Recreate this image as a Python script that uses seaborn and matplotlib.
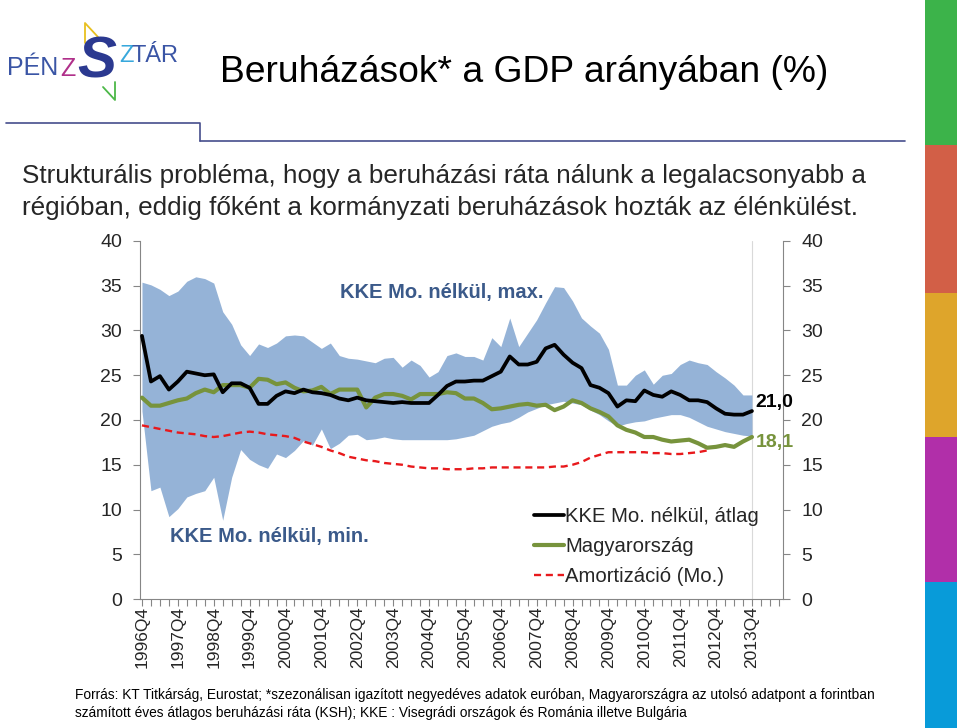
import numpy as np
import pandas as pd
import matplotlib.pyplot as plt
import seaborn as sns
from matplotlib.lines import Line2D
from matplotlib.patches import Rectangle

# quarterly data, 1996Q4 .. 2013Q4
quarters = [str(p) for p in pd.period_range('1996Q4', '2013Q4', freq='Q')]
year_labels = ['1996Q4', '1997Q4', '1998Q4', '1999Q4', '2000Q4', '2001Q4',
               '2002Q4', '2003Q4', '2004Q4', '2005Q4', '2006Q4', '2007Q4',
               '2008Q4', '2009Q4', '2010Q4', '2011Q4', '2012Q4', '2013Q4']

# KKE Mo. nélkül, átlag
kke_avg = [29.4, 24.3, 24.9, 23.4, 24.3, 25.4, 25.2, 25.0, 25.1, 23.1,
           24.1, 24.1, 23.6, 21.8, 21.8, 22.7, 23.2, 23.0, 23.4, 23.1,
           23.0, 22.8, 22.4, 22.2, 22.5, 22.2, 22.1, 22.0, 21.9, 22.0,
           21.9, 21.9, 21.9, 22.8, 23.8, 24.3, 24.3, 24.4, 24.4, 24.9,
           25.4, 27.1, 26.2, 26.2, 26.5, 28.0, 28.4, 27.3, 26.4, 25.8,
           23.9, 23.6, 23.0, 21.5, 22.2, 22.1, 23.3, 22.8, 22.6, 23.2,
           22.8, 22.2, 22.2, 22.0, 21.3, 20.7, 20.6, 20.6, 21.0]
# Magyarország
hungary = [22.5, 21.6, 21.6, 21.9, 22.2, 22.4, 23.0, 23.4, 23.1, 23.9,
           23.9, 23.9, 23.6, 24.6, 24.5, 24.0, 24.2, 23.6, 23.2, 23.3,
           23.7, 22.9, 23.4, 23.4, 23.4, 21.4, 22.5, 22.9, 22.9, 22.7,
           22.3, 22.9, 22.9, 22.9, 23.1, 23.0, 22.4, 22.4, 21.9, 21.2,
           21.3, 21.5, 21.7, 21.8, 21.6, 21.7, 21.1, 21.5, 22.2, 21.9,
           21.3, 20.9, 20.4, 19.4, 18.9, 18.6, 18.1, 18.1, 17.8, 17.6,
           17.7, 17.8, 17.4, 16.9, 17.0, 17.2, 17.0, 17.6, 18.1]
# Amortizáció (Mo.) - ends before the last quarters
amort = [19.4, 19.2, 19.0, 18.8, 18.6, 18.5, 18.4, 18.2, 18.1, 18.2,
         18.4, 18.6, 18.7, 18.6, 18.4, 18.3, 18.2, 18.0, 17.6, 17.3,
         17.0, 16.6, 16.3, 15.9, 15.7, 15.5, 15.4, 15.2, 15.1, 15.0,
         14.8, 14.7, 14.6, 14.6, 14.5, 14.5, 14.5, 14.6, 14.6, 14.7,
         14.7, 14.7, 14.7, 14.7, 14.7, 14.7, 14.8, 14.8, 15.0, 15.3,
         15.8, 16.1, 16.4, 16.4, 16.4, 16.4, 16.4, 16.3, 16.3, 16.2,
         16.2, 16.3, 16.4, 16.6, None, None, None, None, None]
# KKE Mo. nélkül, max. / min.
kke_max = [35.4, 35.1, 34.6, 33.9, 34.4, 35.5, 36.0, 35.8, 35.3, 32.1,
           30.7, 28.4, 27.2, 28.5, 28.1, 28.6, 29.4, 29.5, 29.4, 28.7,
           28.0, 28.6, 27.2, 26.9, 26.8, 26.6, 26.4, 26.9, 27.0, 25.9,
           26.7, 26.1, 24.8, 25.4, 27.2, 27.5, 27.1, 27.1, 26.7, 29.2,
           28.2, 31.4, 28.2, 29.7, 31.2, 33.1, 34.9, 34.8, 33.3, 31.4,
           30.5, 29.7, 27.9, 23.9, 23.9, 25.0, 25.6, 24.0, 25.0, 25.2,
           26.2, 26.7, 26.4, 26.2, 25.4, 24.7, 23.9, 22.8, 22.8]
kke_min = [21.0, 12.1, 12.5, 9.2, 10.1, 11.4, 11.8, 12.1, 13.6, 8.8,
           13.6, 16.7, 15.6, 15.0, 14.6, 16.2, 15.8, 16.6, 17.7, 17.2,
           19.0, 16.8, 17.4, 18.3, 18.4, 17.8, 17.9, 18.1, 17.9, 17.8,
           17.8, 17.8, 17.8, 17.8, 17.8, 17.9, 18.1, 18.3, 18.8, 19.3,
           19.6, 19.8, 20.3, 20.9, 21.3, 21.7, 21.9, 22.1, 21.9, 21.7,
           21.1, 20.6, 19.9, 19.3, 19.6, 19.8, 19.9, 20.2, 20.4, 20.6,
           20.6, 20.3, 19.8, 19.3, 19.0, 18.7, 18.5, 18.3, 18.2]

df = pd.DataFrame({'quarter': quarters, 'avg': kke_avg, 'hu': hungary,
                   'amort': pd.array(amort, dtype='Float64').astype(float),
                   'max': kke_max, 'min': kke_min})
df['pos'] = np.arange(len(df))

sns.set_theme(style='white')
plt.rcParams['font.family'] = ['Liberation Sans', 'DejaVu Sans']

W, H = 960, 728
fig = plt.figure(figsize=(9.6, 7.28), dpi=100)


def fx(x):
    return x / W


def fy(y):
    return 1 - y / H


# chart area
ax = fig.add_axes([fx(140), fy(599), fx(783) - fx(140), fy(241) - fy(599)])

band_col = '#95b3d7'
green = '#77933c'
blue_txt = '#3b5a8a'

ax.fill_between(df['pos'], df['min'], df['max'], color=band_col, lw=0, zorder=1)
ax.axvline(68, color='#d9d9d9', lw=0.8, zorder=0)
sns.lineplot(data=df, x='pos', y='amort', ax=ax, color='#e8191c', lw=1.7,
             linestyle=(0, (3, 2)), label='Amortizáció (Mo.)', zorder=3)
sns.lineplot(data=df, x='pos', y='hu', ax=ax, color=green, lw=3.0,
             label='Magyarország', zorder=4)
sns.lineplot(data=df, x='pos', y='avg', ax=ax, color='black', lw=2.7,
             label='KKE Mo. nélkül, átlag', zorder=5)

ax.set_xlim(-0.22, 71.46)
ax.set_ylim(0, 40)
ax.set_xlabel('')
ax.set_ylabel('')

ax.set_yticks(range(0, 41, 5))
ax.tick_params(axis='y', which='both', left=True, right=True, labelleft=True,
               labelright=True, direction='out', length=5, width=0.8,
               color='#868686', labelsize=14, pad=8)
ax.set_xticks(df['pos'][::4])
ax.set_xticklabels(year_labels, rotation=90, fontsize=12.5)
ax.set_xticks(np.arange(0, 72), minor=True)
ax.tick_params(axis='x', which='both', bottom=True, direction='out', length=5,
               width=0.8, color='#868686', pad=0)
for s in ['left', 'right', 'bottom']:
    ax.spines[s].set_color('#868686')
    ax.spines[s].set_linewidth(0.8)
ax.spines['top'].set_visible(False)

# annotations
ax.text(22.1, 34.2, 'KKE Mo. nélkül, max.', color=blue_txt, fontsize=14.5,
        fontweight='bold', va='center', ha='left')
ax.text(3.1, 7.0, 'KKE Mo. nélkül, min.', color=blue_txt, fontsize=14.5,
        fontweight='bold', va='center', ha='left')
ax.text(68.4, 21.9, '21,0', color='black', fontsize=14, fontweight='bold',
        va='center', ha='left', clip_on=False)
ax.text(68.4, 17.5, '18,1', color=green, fontsize=14, fontweight='bold',
        va='center', ha='left', clip_on=False)

handles, labels = ax.get_legend_handles_labels()
order = [2, 1, 0]
ax.legend([handles[i] for i in order], [labels[i] for i in order],
          loc='lower left', bbox_to_anchor=(0.612, 0.035), frameon=False,
          fontsize=14.6, handlelength=1.5, handletextpad=0.05,
          labelspacing=0.56, borderaxespad=0, borderpad=0)

# slide decorations
fig.text(fx(220), fy(72), 'Beruházások* a GDP arányában (%)', fontsize=26.8,
         va='center', ha='left', color='black')
fig.text(fx(22), fy(176), 'Strukturális probléma, hogy a beruházási ráta nálunk a legalacsonyabb a',
         fontsize=18.8, va='center', ha='left', color='#262626')
fig.text(fx(22), fy(208), 'régióban, eddig főként a kormányzati beruházások hozták az élénkülést.',
         fontsize=18.8, va='center', ha='left', color='#262626')
fig.text(fx(75), fy(695), 'Forrás: KT Titkárság, Eurostat; *szezonálisan igazított negyedéves adatok '
         'euróban, Magyarországra az utolsó adatpont a forintban',
         fontsize=9.9, va='center', ha='left', color='black')
fig.text(fx(75), fy(713), 'számított éves átlagos beruházási ráta (KSH); KKE : Visegrádi országok '
         'és Románia illetve Bulgária', fontsize=9.9, va='center', ha='left', color='black')

line_col = '#464e8c'
fig.add_artist(Line2D([fx(6), fx(200), fx(200)], [fy(123), fy(123), fy(141)],
                      color=line_col, lw=1.2))
fig.add_artist(Line2D([fx(200), fx(905)], [fy(141), fy(141)], color=line_col, lw=1.2))

strip = [('#3cb34a', 0, 145), ('#d25f47', 145, 293), ('#dea52b', 293, 437),
         ('#b12fa9', 437, 582), ('#089bd9', 582, 728)]
for col, y0, y1 in strip:
    fig.add_artist(Rectangle((fx(925), fy(y1)), fx(32), fy(y0) - fy(y1),
                             transform=fig.transFigure, color=col, lw=0))

# logo
fig.text(fx(7), fy(68), 'PÉN', fontsize=18, color='#3a55a5', va='center', ha='left')
fig.text(fx(60), fy(69), 'Z', fontsize=18, color='#b0308a', va='center', ha='left')
fig.text(fx(77), fy(63), 'S', fontsize=42, color='#2b3990', va='center', ha='left',
         fontweight='bold', style='italic')
fig.text(fx(119), fy(56), 'Z', fontsize=17, color='#38a8dc', va='center', ha='left')
fig.text(fx(132), fy(56), 'TÁR', fontsize=17, color='#3a55a5', va='center', ha='left')
fig.add_artist(Line2D([fx(85), fx(85), fx(98)], [fy(43), fy(23), fy(37)],
                      color='#e8c020', lw=1.3))
fig.add_artist(Line2D([fx(103), fx(115), fx(115)], [fy(87), fy(100), fy(82)],
                      color='#4cb848', lw=1.3))

fig.savefig('out.png', dpi=100)
